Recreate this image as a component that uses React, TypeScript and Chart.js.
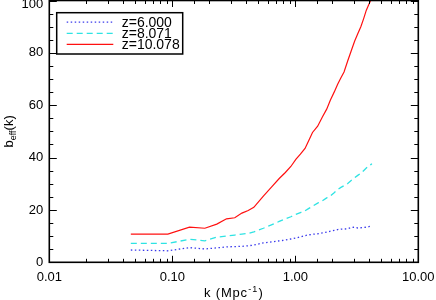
import React, { useEffect, useRef } from 'react';
import { Chart, registerables } from 'chart.js';

Chart.register(...registerables);

// wavenumber k (Mpc^-1)
const kValues = [0.046, 0.092, 0.138, 0.184, 0.23, 0.276, 0.322, 0.368, 0.414, 0.46, 0.55, 0.64, 0.74, 0.83, 0.92, 1.01, 1.1, 1.2, 1.29, 1.38, 1.52, 1.66, 1.8, 1.93, 2.07, 2.21, 2.35, 2.49, 2.67, 2.86, 3.04, 3.22, 3.41, 3.59, 3.78, 3.96, 4.14, 4.19];
// b_eff(k) at z = 6.000
const bz6 = [4.7, 4.4, 5.6, 5.1, 5.5, 5.9, 6.0, 6.1, 6.3, 6.6, 7.4, 7.8, 8.2, 8.5, 8.9, 9.3, 9.7, 10.2, 10.5, 10.7, 10.9, 11.2, 11.5, 11.9, 12.2, 12.5, 12.7, 12.7, 12.8, 13.3, 13.4, 13.1, 13.2, 13.3, 13.4, 13.6, 13.8, 13.9];
// b_eff(k) at z = 8.071
const bz8 = [7.2, 7.2, 8.8, 8.2, 9.6, 10.0, 10.4, 10.8, 11.0, 11.6, 13.0, 14.3, 15.6, 16.6, 17.4, 18.3, 19.0, 19.7, 20.6, 21.4, 22.6, 23.5, 24.6, 25.4, 26.6, 27.8, 28.6, 29.3, 30.1, 31.3, 32.3, 33.2, 34.0, 35.0, 36.0, 36.9, 37.4, 37.7];
// b_eff(k) at z = 10.078
const bz10 = [10.8, 10.8, 13.4, 13.0, 14.6, 16.6, 17.0, 18.8, 19.8, 21.0, 25.3, 28.7, 32.0, 34.3, 36.6, 39.3, 41.3, 43.5, 46.6, 49.6, 52.0, 55.5, 58.5, 62.0, 65.0, 68.0, 70.5, 72.7, 77.0, 81.0, 84.5, 87.3, 90.0, 93.0, 96.3, 98.5, 100.5, 101.5];

const seriesLabels = ['z=6.000', 'z=8.071', 'z=10.078'];
const xMin = 0.01;
const xMax = 10;
const yMin = 0;
const yMax = 100;
const yMajorStep = 20;
const yMinorStep = 5;

const FONT = '"Liberation Sans", Arial, Helvetica, sans-serif';

function isDecade(v: number) {
  const l = Math.log10(v);
  return Math.abs(l - Math.round(l)) < 1e-6;
}

export default function App() {
  const ref = useRef<HTMLCanvasElement>(null);

  useEffect(() => {
    const canvas = ref.current!;
    const mk = (vals: number[]) => kValues.map((k, i) => ({ x: k, y: vals[i] }));

    const framePlugin = {
      id: 'idlFrame',
      afterDraw(chart: any) {
        const ctx = chart.ctx as CanvasRenderingContext2D;
        const { left, right, top, bottom } = chart.chartArea;
        const xs = chart.scales.x;
        const ys = chart.scales.y;
        ctx.save();
        // inward tick marks on all four sides
        ctx.strokeStyle = '#000';
        ctx.lineWidth = 1;
        ctx.beginPath();
        for (const t of xs.ticks) {
          const v = t.value;
          if (v < xMin - 1e-9 || v > xMax + 1e-9) continue;
          const px = Math.round(xs.getPixelForValue(v)) + 0.5;
          const len = isDecade(v) ? 6.5 : 3.5;
          ctx.moveTo(px, bottom);
          ctx.lineTo(px, bottom - len);
          ctx.moveTo(px, top);
          ctx.lineTo(px, top + len);
        }
        for (let v = yMin; v <= yMax + 1e-9; v += yMinorStep) {
          const py = Math.round(ys.getPixelForValue(v)) + 0.5;
          const len = v % yMajorStep === 0 ? 7.5 : 4;
          ctx.moveTo(left, py);
          ctx.lineTo(left + len, py);
          ctx.moveTo(right, py);
          ctx.lineTo(right - len, py);
        }
        ctx.stroke();
        // frame
        ctx.lineWidth = 1.6;
        ctx.strokeRect(left, top, right - left, bottom - top);

        // legend box
        const lx = left + 7.4;
        const ly = top + 12.2;
        ctx.lineWidth = 1.5;
        ctx.fillStyle = '#fff';
        ctx.fillRect(lx, ly, 126, 41.3);
        ctx.strokeRect(lx, ly, 126, 41.3);
        ctx.font = `14px ${FONT}`;
        ctx.textBaseline = 'middle';
        ctx.textAlign = 'left';
        chart.data.datasets.forEach((ds: any, i: number) => {
          const yy = ly + 9.5 + i * 11.1;
          ctx.save();
          ctx.strokeStyle = ds.borderColor;
          ctx.lineWidth = ds.borderWidth;
          ctx.setLineDash(ds.borderDash || []);
          ctx.beginPath();
          ctx.moveTo(lx + 10, yy);
          ctx.lineTo(lx + 56.6, yy);
          ctx.stroke();
          ctx.restore();
          ctx.fillStyle = '#000';
          ctx.fillText(ds.label, lx + 65, yy + 0.5);
        });

        // x-axis title: k (Mpc^-1)
        ctx.fillStyle = '#000';
        ctx.textBaseline = 'alphabetic';
        (ctx as any).letterSpacing = '0.8px';
        const big = `13px ${FONT}`;
        const small = `9px ${FONT}`;
        const p1 = 'k (Mpc';
        const p2 = '-1';
        const p3 = ')';
        ctx.font = big;
        const w1 = ctx.measureText(p1).width;
        const w3 = ctx.measureText(p3).width;
        ctx.font = small;
        const w2 = ctx.measureText(p2).width;
        const total = w1 + w2 + w3 + 1;
        let cx = (left + right) / 2 - total / 2;
        const base = 296.5;
        ctx.font = big;
        ctx.fillText(p1, cx, base);
        cx += w1 + 0.5;
        ctx.font = small;
        ctx.fillText(p2, cx, base - 5);
        cx += w2 + 0.5;
        ctx.font = big;
        ctx.fillText(p3, cx, base);
        (ctx as any).letterSpacing = '0px';

        // y-axis title: b_eff(k)
        ctx.save();
        ctx.translate(13.3, (top + bottom) / 2);
        ctx.rotate(-Math.PI / 2);
        ctx.font = big;
        const q1 = 'b';
        const q3 = '(k)';
        const qw1 = ctx.measureText(q1).width;
        const qw3 = ctx.measureText(q3).width;
        ctx.font = small;
        const q2 = 'eff';
        const qw2 = ctx.measureText(q2).width;
        const qt = qw1 + qw2 + qw3;
        let qx = -qt / 2;
        ctx.font = big;
        ctx.fillText(q1, qx, 0);
        qx += qw1;
        ctx.font = small;
        ctx.fillText(q2, qx, 2.5);
        qx += qw2;
        ctx.font = big;
        ctx.fillText(q3, qx, 0);
        ctx.restore();

        ctx.restore();
      },
    };

    const chart = new Chart(canvas, {
      type: 'line',
      data: {
        datasets: [
          {
            label: seriesLabels[0],
            data: mk(bz6),
            borderColor: '#3a3aec',
            borderWidth: 1.3,
            borderDash: [1.5, 2.5],
            pointRadius: 0,
            fill: false,
            tension: 0,
          },
          {
            label: seriesLabels[1],
            data: mk(bz8),
            borderColor: '#2fe3e3',
            borderWidth: 1.3,
            borderDash: [6, 4],
            pointRadius: 0,
            fill: false,
            tension: 0,
          },
          {
            label: seriesLabels[2],
            data: mk(bz10),
            borderColor: '#ff1010',
            borderWidth: 1.2,
            pointRadius: 0,
            fill: false,
            tension: 0,
          },
        ],
      },
      options: {
        responsive: false,
        animation: false,
        devicePixelRatio: 1,
        layout: { padding: { left: 0, right: 17.7, top: 0.5, bottom: 0 } },
        plugins: {
          legend: { display: false },
          tooltip: { enabled: false },
        },
        scales: {
          x: {
            type: 'logarithmic',
            min: xMin,
            max: xMax,
            grid: { display: false, drawTicks: false },
            border: { display: false },
            ticks: {
              autoSkip: false,
              maxRotation: 0,
              minRotation: 0,
              padding: 7,
              color: '#000',
              font: { family: FONT, size: 13 },
              callback: (v: any) => (isDecade(Number(v)) ? Number(v).toFixed(2) : ''),
            },
            afterFit: (s: any) => {
              s.height = 37.7;
              s.paddingLeft = 0;
              s.paddingRight = 0;
            },
          },
          y: {
            type: 'linear',
            min: yMin,
            max: yMax,
            grid: { display: false, drawTicks: false },
            border: { display: false },
            ticks: {
              stepSize: yMajorStep,
              padding: 6,
              color: '#000',
              font: (c: any) => ({
                family: FONT,
                size: 13,
                lineHeight: c.tick && c.tick.value === yMax ? 0.6 : 1.2,
              }),
              callback: (v: any) => (Number(v) === yMax ? ['', String(v)] : String(v)),
            },
            afterFit: (s: any) => {
              s.width = 49.3;
              s.paddingTop = 0;
              s.paddingBottom = 0;
            },
          },
        },
      },
      plugins: [framePlugin],
    } as any);

    return () => chart.destroy();
  }, []);

  return (
    <div
      style={{
        position: 'absolute',
        left: 0,
        top: 0,
        width: 436,
        height: 300,
        overflow: 'hidden',
        background: '#fff',
      }}
    >
      <canvas ref={ref} width={436} height={300} style={{ display: 'block', width: 436, height: 300 }} />
    </div>
  );
}
